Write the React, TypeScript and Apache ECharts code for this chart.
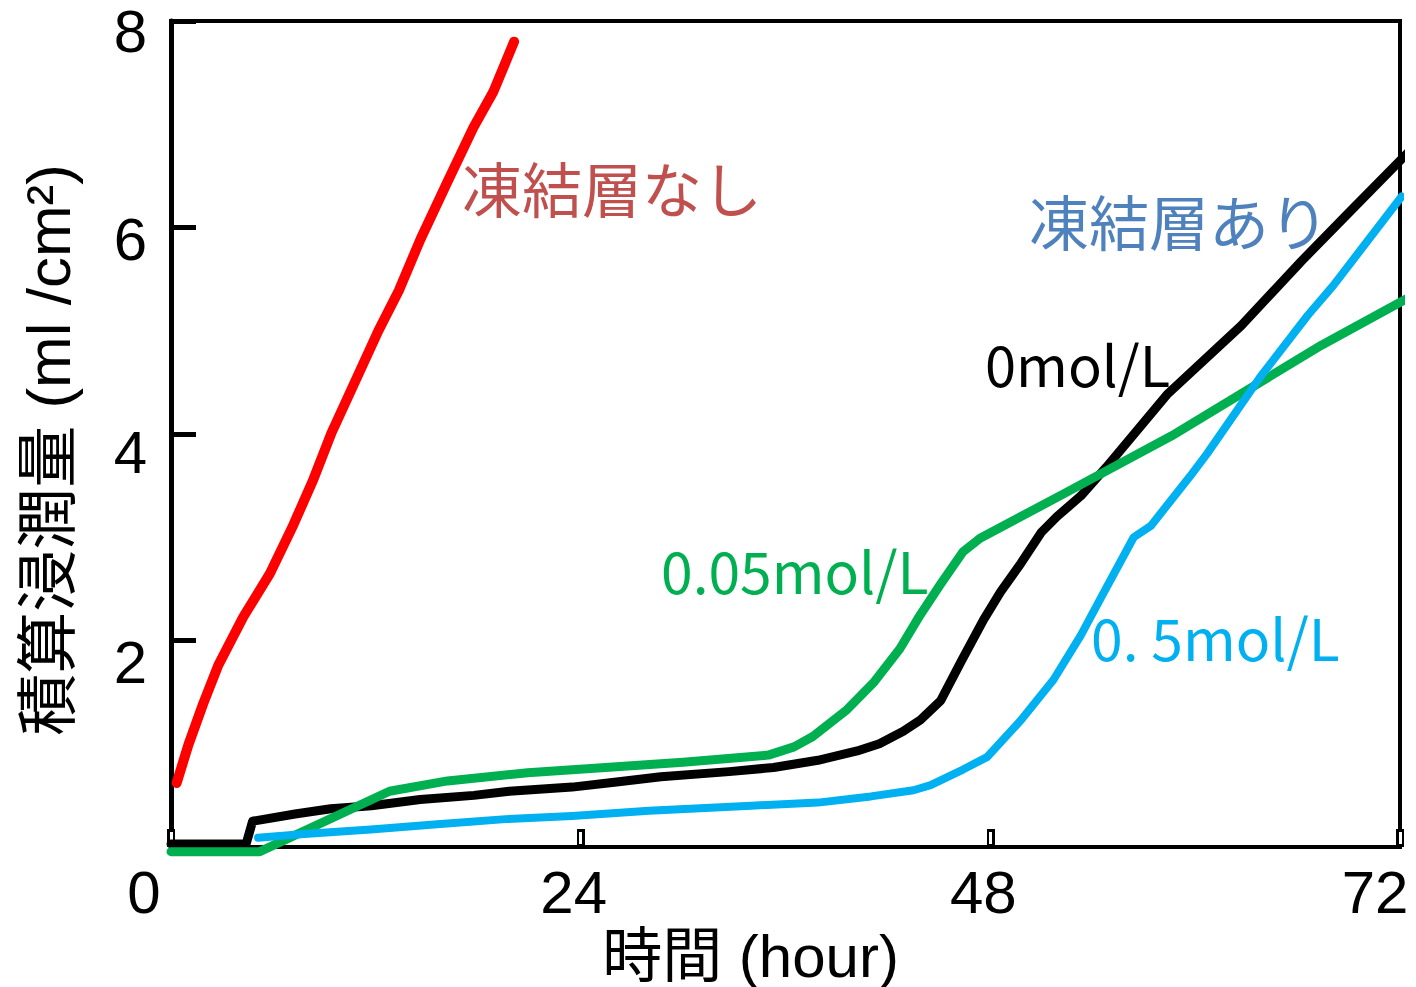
import React, { useEffect, useRef } from "react";
import * as echarts from "echarts";

// x axis: hours, y axis: cumulative infiltration (ml/cm2)
const xTickValues = [0, 24, 48, 72];
const yTickValues = [2, 4, 6, 8];

// 凍結層なし (red)
const noFrozenLayer: number[][] = [
  [0.33, 0.62], [1.02, 0.99], [1.89, 1.39], [2.77, 1.76], [4.24, 2.23],
  [5.8, 2.65], [7.17, 3.12], [8.34, 3.56], [9.4, 4.01], [10.9, 4.55],
  [12.15, 5.0], [13.35, 5.39], [14.6, 5.88], [16.16, 6.43], [17.72, 6.97],
  [18.9, 7.32], [20.1, 7.8],
];

// 0mol/L (black)
const salt0: number[][] = [
  [0, 0.03], [4.4, 0.03], [4.78, 0.25], [7.27, 0.32], [9.36, 0.37],
  [11.73, 0.4], [14.6, 0.46], [17.74, 0.5], [19.82, 0.54], [23.5, 0.58],
  [26.1, 0.63], [28.7, 0.68], [32.7, 0.73], [35.3, 0.77], [37.9, 0.84],
  [40.2, 0.93], [41.5, 1.0], [42.9, 1.12], [43.9, 1.23], [45.1, 1.42],
  [46.3, 1.8], [47.6, 2.2], [48.6, 2.47], [49.8, 2.75], [51.0, 3.05],
  [51.9, 3.2], [53.3, 3.4], [54.8, 3.68], [58.4, 4.39], [62.7, 5.05],
  [66.2, 5.67], [69.1, 6.16], [72.5, 6.73],
];

// 0.05mol/L (green)
const salt005: number[][] = [
  [0, -0.045], [5.2, -0.045], [12.8, 0.54], [16.2, 0.64], [20.9, 0.72],
  [30.0, 0.82], [35.0, 0.89], [36.5, 0.97], [37.6, 1.07], [39.6, 1.33],
  [41.2, 1.6], [42.7, 1.92], [43.9, 2.25], [45.1, 2.55], [46.4, 2.86],
  [47.4, 2.99], [52.4, 3.43], [58.6, 3.98], [63.8, 4.5], [67.4, 4.86],
  [72.6, 5.33],
];

// 0. 5mol/L (cyan)
const salt05: number[][] = [
  [5.1, 0.09], [7.8, 0.125], [11.7, 0.17], [15.6, 0.22], [19.6, 0.27],
  [23.5, 0.3], [28.0, 0.35], [34.0, 0.4], [37.9, 0.43], [41.0, 0.49],
  [43.5, 0.55], [44.5, 0.6], [46.4, 0.75], [47.8, 0.87], [49.8, 1.23],
  [51.7, 1.62], [53.3, 2.05], [54.5, 2.42], [56.4, 3.0], [57.4, 3.11],
  [59.7, 3.59], [60.7, 3.81], [63.8, 4.55], [66.6, 5.15], [68.1, 5.44],
  [72.1, 6.3],
];

const seriesNames = ["凍結層なし", "0mol/L", "0.05mol/L", "0. 5mol/L"];
const seriesColors = ["#FF0000", "#000000", "#00B050", "#00B0F0"];
const seriesWidths = [10, 9, 9, 8];
const seriesData = [noFrozenLayer, salt0, salt005, salt05];

const xAxisTitle = "時間 (hour)";
const yAxisTitle = "積算浸潤量 (ml /cm²)";

const LATIN = '"Liberation Sans", Arial, "Noto Sans CJK JP", sans-serif';
const JP = '"Noto Sans CJK JP", "Noto Sans", sans-serif';

export default function App() {
  const ref = useRef<HTMLDivElement>(null);
  useEffect(() => {
    if (!ref.current) return;
    const chart = echarts.init(ref.current, undefined, { renderer: "svg" });
    const xRich: Record<string, any> = {};
    const xShifts: Record<number, number> = { 0: 54, 24: 14, 48: 14, 72: 50 };
    xTickValues.forEach((v) => {
      xRich["s" + v] = {
        fontSize: 60,
        fontFamily: LATIN,
        color: "#000",
        padding: [0, xShifts[v] || 0, 0, 0],
      };
    });
    const yRich: Record<string, any> = {};
    const yShifts: Record<number, number> = { 2: 44, 4: 36, 6: 24, 8: 20 };
    yTickValues.forEach((v) => {
      yRich["s" + v] = {
        fontSize: 60,
        fontFamily: LATIN,
        color: "#000",
        padding: [yShifts[v] || 0, 0, 0, 0],
      };
    });
    chart.setOption({
      animation: false,
      backgroundColor: "#fff",
      grid: {
        left: 171,
        top: 21,
        width: 1229,
        height: 826,
        show: true,
        borderColor: "#000",
        borderWidth: 4,
        backgroundColor: "transparent",
        containLabel: false,
        outerBoundsMode: "none",
      },
      xAxis: [
        {
          type: "value",
          min: 0,
          max: 72,
          interval: 24,
          name: xAxisTitle,
          nameLocation: "middle",
          nameGap: 78,
          nameTextStyle: { fontSize: 60, fontFamily: LATIN, color: "#000", padding: [0, 70, 0, 0] },
          axisLine: { show: true, lineStyle: { color: "#000", width: 4 } },
          axisTick: { show: true, inside: true, length: 18, lineStyle: { color: "#000", width: 8 } },
          axisLabel: {
            margin: 15,
            formatter: (v: number) => (xTickValues.includes(v) ? `{s${v}|${v}}` : ""),
            rich: xRich,
          },
          splitLine: { show: false },
        },
        {
          type: "value",
          min: 0,
          max: 72,
          interval: 24,
          position: "bottom",
          offset: -3,
          axisLine: { show: false },
          axisTick: { show: true, inside: true, length: 12, lineStyle: { color: "#fff", width: 3 } },
          axisLabel: { show: false },
          splitLine: { show: false },
        },
      ],
      yAxis: {
        type: "value",
        min: 0,
        max: 8,
        interval: 2,
        name: yAxisTitle,
        nameLocation: "middle",
        nameRotate: 90,
        nameGap: 92,
        nameTextStyle: { fontSize: 62, fontFamily: LATIN, color: "#000", padding: [0, 32, 0, 0] },
        axisLine: { show: true, lineStyle: { color: "#000", width: 5 } },
        axisTick: { show: true, inside: true, length: 25, lineStyle: { color: "#000", width: 5 } },
        axisLabel: {
          showMinLabel: false,
          margin: 24,
          formatter: (v: number) => (yTickValues.includes(v) ? `{s${v}|${v}}` : ""),
          rich: yRich,
        },
        splitLine: { show: false },
      },
      series: seriesData.map((d, i) => ({
        type: "line",
        name: seriesNames[i],
        data: d,
        xAxisIndex: 0,
        showSymbol: false,
        symbol: "none",
        clip: false,
        lineStyle: { color: seriesColors[i], width: seriesWidths[i], join: "round", cap: "round" },
        z: 3 + i,
      })),
      graphic: [
        { type: "text", x: 462, y: 186, z: 10, style: { text: "凍結層なし", fill: "#C0504D", fontSize: 60, fontFamily: JP, align: "left", verticalAlign: "middle" } },
        { type: "text", x: 1029, y: 219, z: 10, style: { text: "凍結層あり", fill: "#4F81BD", fontSize: 60, fontFamily: JP, align: "left", verticalAlign: "middle" } },
        { type: "text", x: 985, y: 362, z: 10, style: { text: "0mol/L", fill: "#000000", fontSize: 56, fontFamily: JP, align: "left", verticalAlign: "middle" } },
        { type: "text", x: 661, y: 569, z: 10, style: { text: "0.05mol/L", fill: "#00B050", fontSize: 57, fontFamily: JP, align: "left", verticalAlign: "middle" } },
        { type: "text", x: 1091, y: 636, z: 10, style: { text: "0. 5mol/L", fill: "#00B0F0", fontSize: 57, fontFamily: JP, align: "left", verticalAlign: "middle" } },
      ],
    });
    return () => chart.dispose();
  }, []);
  return (
    <div
      ref={ref}
      style={{ position: "fixed", left: 0, top: 0, width: 1416, height: 987, background: "#fff" }}
    />
  );
}
